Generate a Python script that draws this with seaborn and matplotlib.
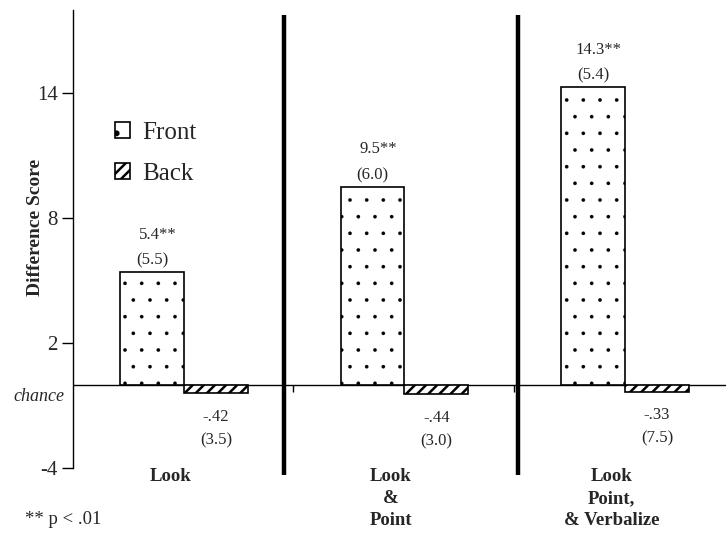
import pandas as pd
import matplotlib
matplotlib.use("Agg")
from matplotlib import pyplot as plt
import seaborn as sns

# data
conditions = ["Look", "Look\n&\nPoint", "Look\nPoint,\n& Verbalize"]
sides = ["Front", "Back"]
front_means = [5.4, 9.5, 14.3]
back_means = [-0.42, -0.44, -0.33]
front_labels = ["5.4**", "9.5**", "14.3**"]
front_sds = ["(5.5)", "(6.0)", "(5.4)"]
back_labels = ["-.42", "-.44", "-.33"]
back_sds = ["(3.5)", "(3.0)", "(7.5)"]
y_ticks = [-4, 2, 8, 14]

sns.set_style("white")
plt.rcParams["font.family"] = ["Liberation Serif", "DejaVu Serif"]
plt.rcParams["axes.unicode_minus"] = False
plt.rcParams["hatch.linewidth"] = 1.8

df = pd.DataFrame({
    "condition": conditions * 2,
    "side": ["Front"] * len(conditions) + ["Back"] * len(conditions),
    "score": front_means + back_means,
})

fig = plt.figure(figsize=(7.26, 5.42), dpi=100)
ax = fig.add_axes([0.1006, 0.1365, 0.8994, 0.845])

sns.barplot(
    data=df,
    x="condition",
    y="score",
    hue="side",
    hue_order=sides,
    palette={"Front": "white", "Back": "white"},
    edgecolor="black",
    linewidth=1.2,
    width=0.58,
    errorbar=None,
    legend=False,
    ax=ax,
)

for bar in ax.containers[0]:
    bar.set_hatch(".")
    if hasattr(bar, "set_hatch_linewidth"):
        bar.set_hatch_linewidth(0.2)
for bar in ax.containers[1]:
    bar.set_hatch("///")

# value and (sd) labels
for i, bar in enumerate(ax.containers[0]):
    cx = bar.get_x() + bar.get_width() / 2
    top = bar.get_y() + bar.get_height()
    ax.annotate(front_labels[i], (cx, top), xytext=(4, 27), textcoords="offset points",
                ha="center", va="center", fontsize=12)
    ax.annotate(front_sds[i], (cx, top), xytext=(0, 8.5), textcoords="offset points",
                ha="center", va="center", fontsize=12)

for i, bar in enumerate(ax.containers[1]):
    cx = bar.get_x() + bar.get_width() / 2
    bottom = bar.get_y() + bar.get_height()
    ax.annotate(back_labels[i], (cx, bottom), xytext=(0, -17), textcoords="offset points",
                ha="center", va="center", fontsize=12)
    ax.annotate(back_sds[i], (cx, bottom), xytext=(0, -34), textcoords="offset points",
                ha="center", va="center", fontsize=12)

# chance line, group separators, stray ticks
ax.axhline(0, color="black", linewidth=1, zorder=0.5)
ax.vlines([0.453, 1.517], -4.32, 17.76, colors="black", linewidth=3.2, clip_on=False)
ax.vlines([0.494, 1.497], -0.35, 0, colors="black", linewidth=1)

# group labels under the axis
for i, lab in enumerate(conditions):
    ax.text(i - 0.062, -3.99, lab, ha="center", va="top", fontsize=13.5,
            fontweight="bold", linespacing=1.38)

ax.set_xlim(-0.503, 2.458)
ax.set_ylim(-4, 18)
ax.set_xticks([])
ax.set_xlabel("")
ax.set_yticks(y_ticks)
ax.tick_params(axis="y", left=True, direction="out", length=8, width=1,
               labelsize=15, pad=3, color="black")
ax.set_ylabel("Difference Score", fontsize=14, fontweight="bold")
ax.yaxis.set_label_coords(-0.045, 0.526)

for side in ["top", "right", "bottom"]:
    ax.spines[side].set_visible(False)
ax.spines["left"].set_color("black")
ax.spines["left"].set_linewidth(1)

ax.annotate("chance", xy=(0, 0), xycoords=("axes fraction", "data"), xytext=(-6, -2),
            textcoords="offset points", ha="right", va="top", fontsize=13, style="italic")

ax.legend(
    handles=[ax.containers[0], ax.containers[1]],
    labels=sides,
    loc="upper left",
    bbox_to_anchor=(0.064, 0.755),
    frameon=False,
    fontsize=18,
    handlelength=0.6,
    handleheight=0.6,
    handletextpad=0.5,
    labelspacing=0.75,
    borderpad=0,
    borderaxespad=0,
)

fig.text(25 / 726, 1 - 520 / 542, "** p < .01", fontsize=13.5, va="center", ha="left")

fig.savefig("out.png", dpi=100)
